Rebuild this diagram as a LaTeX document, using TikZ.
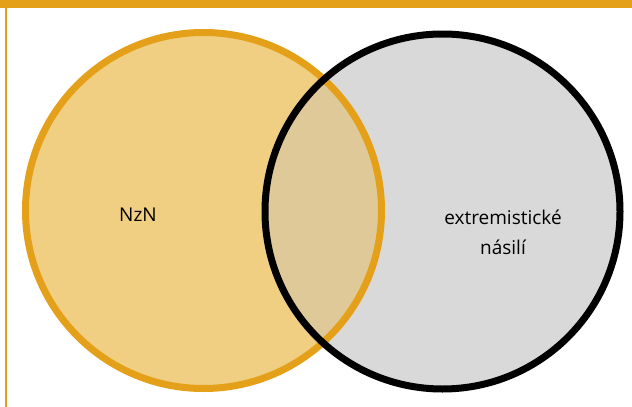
\documentclass[tikz,border=0pt]{standalone}
\usepackage{fontspec}
\setmainfont{Open Sans}
\usepackage{tikz}

\definecolor{nznorange}{RGB}{228,160,24}
\definecolor{nznfill}{RGB}{240,206,130}
\definecolor{extgrey}{RGB}{217,217,217}
\definecolor{overlap}{RGB}{224,201,152}

\begin{document}
\begin{tikzpicture}[x=1pt,y=-1pt,
  label text/.style={font=\fontsize{19}{30}\selectfont, align=center}]
\useasboundingbox (0,0) rectangle (632,407);
\fill [white] (0,0) rectangle (632,407);
% frame
\fill [nznorange] (0,0) rectangle (632,7.5);
\draw [nznorange, line width=2.5pt] (6,7) -- (6,407);
% fills
\fill [nznfill] (203.5,210.5) circle (178);
\fill [extgrey] (442.5,211.5) circle (177.5);
\begin{scope}
\clip (203.5,210.5) circle (178);
\fill [overlap] (442.5,211.5) circle (177.5);
\end{scope}
% outlines
\draw [nznorange, line width=7pt] (203.5,210.5) circle (178);
\draw [black, line width=7pt] (442.5,211.5) circle (177.5);
\node (nzn) at (138,215) [label text] {NzN};
\node (extr) at (503,232) [label text] {extremistické\\násilí};
\end{tikzpicture}
\end{document}
